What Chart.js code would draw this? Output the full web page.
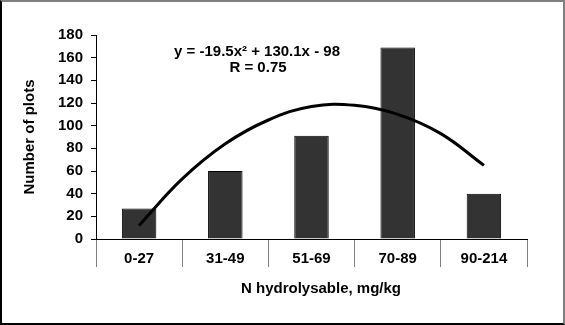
<!DOCTYPE html>
<html>
<head>
<meta charset="utf-8">
<script src="https://cdn.jsdelivr.net/npm/chart.js@4"></script>
<style>
  html, body { margin: 0; padding: 0; background: #fff; }
  #frame {
    width: 561px; height: 321px;
    border-top: 2px solid #808080;
    border-left: 2px solid #000;
    border-right: 2px solid #808080;
    border-bottom: 2px solid #000;
  }
  canvas { display: block; }
</style>
</head>
<body>
<div id="frame"><canvas id="plots" width="561" height="321"></canvas></div>
<script>
// ---- data ----
const categories = ['0-27', '31-49', '51-69', '70-89', '90-214'];
const plotCounts = [27, 60, 91, 169, 40];

// trend curve, sampled along the drawn line (x = category position, 1-based)
const trendX = [1, 1.5, 2, 2.5, 3, 3.5, 4, 4.5, 5];
const trendY = [12, 53, 84, 105, 117, 118, 110, 93, 65];

const equationLines = ['y = -19.5x\u00B2 + 130.1x - 98', 'R = 0.75'];
const xTitle = 'N hydrolysable, mg/kg';

const FONT = 'Liberation Sans, Arial, sans-serif';
const FSIZE = 15;

// equation text inside the plot + x axis title (sits a bit right of centre)
const extraText = {
    id: 'extraText',
    afterDraw(chart) {
        const ctx = chart.ctx;
        ctx.save();
        ctx.fillStyle = '#000';
        ctx.font = 'bold ' + FSIZE + 'px ' + FONT;
        ctx.textAlign = 'center';
        ctx.textBaseline = 'middle';
        ctx.fillText(equationLines[0], 255, 50);
        ctx.fillText(equationLines[1], 256, 66);
        ctx.fillText(xTitle, 319, 287);
        ctx.restore();
    }
};

const ctx = document.getElementById('plots').getContext('2d');
new Chart(ctx, {
    data: {
        labels: categories,
        datasets: [
            {
                type: 'bar',
                label: 'Number of plots',
                data: plotCounts,
                xAxisID: 'x',
                backgroundColor: '#333333',
                borderColor: '#000',
                borderWidth: 1,
                grouped: false,
                categoryPercentage: 1,
                barPercentage: 0.4,
                order: 1
            },
            {
                type: 'line',
                label: 'Trend',
                data: trendX.map((x, i) => ({ x: x, y: trendY[i] })),
                xAxisID: 'xt',
                borderColor: '#000',
                borderWidth: 3,
                pointRadius: 0,
                tension: 0.4,
                fill: false,
                order: 0
            }
        ]
    },
    options: {
        responsive: false,
        animation: false,
        layout: { padding: { left: 0, top: 33, right: 36, bottom: 14 } },
        plugins: {
            legend: { display: false },
            tooltip: { enabled: false }
        },
        scales: {
            x: {
                type: 'category',
                offset: true,
                grid: {
                    offset: true,
                    drawOnChartArea: false,
                    drawTicks: true,
                    tickLength: 28,
                    color: '#808080',
                    lineWidth: 1
                },
                border: { color: '#000', width: 1 },
                ticks: {
                    color: '#000',
                    font: { family: FONT, size: FSIZE, weight: 'bold' },
                    padding: -17,
                    maxRotation: 0
                },
                afterFit(s) { s.height = 70; }
            },
            xt: {
                type: 'linear',
                display: false,
                min: 0.5,
                max: 5.5
            },
            y: {
                min: 0,
                max: 180,
                ticks: {
                    stepSize: 20,
                    color: '#000',
                    font: { family: FONT, size: FSIZE, weight: 'bold' },
                    padding: 8
                },
                grid: {
                    drawOnChartArea: false,
                    drawTicks: true,
                    tickLength: 5,
                    color: '#000'
                },
                border: { color: '#000', width: 1 },
                title: {
                    display: true,
                    text: 'Number of plots',
                    color: '#000',
                    font: { family: FONT, size: FSIZE, weight: 'bold' },
                    padding: { top: 19, bottom: 0 }
                },
                afterFit(s) { s.width = 94; }
            }
        }
    },
    plugins: [extraText]
});
</script>
</body>
</html>
